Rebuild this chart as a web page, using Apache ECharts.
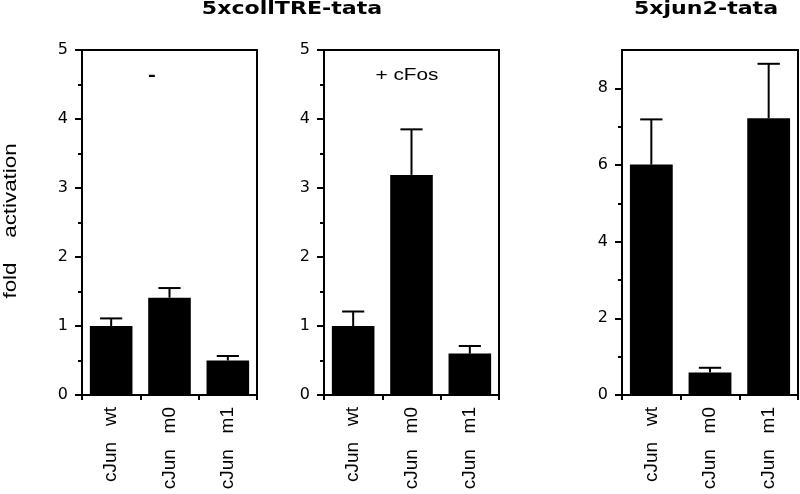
<!DOCTYPE html>
<html>
<head>
<meta charset="utf-8">
<script src="https://cdn.jsdelivr.net/npm/echarts@6/dist/echarts.min.js"></script>
<style>html,body{margin:0;padding:0;background:#fff}#c{width:800px;height:494px}</style>
</head>
<body>
<div id="c"></div>
<script>
const categories = ['cJun   wt', 'cJun   m0', 'cJun   m1'];
const collMinus = [1.0, 1.41, 0.50];
const collMinusErr = [1.11, 1.55, 0.565];
const collFos = [1.0, 3.19, 0.60];
const collFosErr = [1.21, 3.85, 0.71];
const jun2 = [6.01, 0.59, 7.22];
const jun2Err = [7.19, 0.71, 8.64];
const yTicksColl = [0, 1, 2, 3, 4, 5];
const yTicksJun = [0, 2, 4, 6, 8];
const yMinorJun = [1, 3, 5, 7];
const titleColl = '5xcollTRE-tata';
const titleJun = '5xjun2-tata';
const panelMinus = '-';
const panelFos = '+ cFos';
const yName = 'fold    activation';

const chart = echarts.init(document.getElementById('c'), null, {renderer: 'canvas'});
const black = '#000';
const FONT = 'Liberation Sans';

function errData(vals, errs) {
  return vals.map((v, i) => [i, v, errs[i]]);
}
function errRender(params, api) {
  const x = api.value(0);
  const b = api.coord([x, api.value(1)]);
  const t = api.coord([x, api.value(2)]);
  const half = api.size([1, 0])[0] * 0.19;
  return {type: 'group', children: [
    {type: 'line', shape: {x1: b[0], y1: b[1], x2: t[0], y2: t[1]}, style: {stroke: black, lineWidth: 2}},
    {type: 'line', shape: {x1: t[0] - half, y1: t[1], x2: t[0] + half, y2: t[1]}, style: {stroke: black, lineWidth: 2}}
  ]};
}
function xAxis(gi) {
  return {
    type: 'category', gridIndex: gi, data: categories,
    axisLine: {lineStyle: {color: black, width: 2}},
    axisTick: {show: true, length: 5, lineStyle: {color: black, width: 2}},
    axisLabel: {rotate: 90, interval: 0, margin: 12, color: black, fontSize: 19, fontFamily: FONT},
    splitLine: {show: false}
  };
}
function yAxisColl(gi) {
  return {
    type: 'value', gridIndex: gi, min: 0, max: 5, interval: 1,
    axisLine: {show: true, lineStyle: {color: black, width: 2}},
    axisTick: {show: true, length: 7, lineStyle: {color: black, width: 2}},
    minorTick: {show: true, splitNumber: 2, length: 4, lineStyle: {color: black, width: 2}},
    axisLabel: {margin: 14, color: black, fontSize: 16, fontFamily: 'DejaVu Sans',
      customValues: yTicksColl},
    splitLine: {show: false}, minorSplitLine: {show: false}
  };
}
const gridCommon = {show: true, borderColor: black, borderWidth: 2, backgroundColor: 'transparent',
  containLabel: false, outerBoundsMode: 'none'};
function txt(text, x, y, size, weight, family, extra) {
  return Object.assign({type: 'text', x: x, y: y, scaleX: 1.3,
    style: {text: text, fontSize: size, fontWeight: weight, fontFamily: family, fill: black,
      textAlign: 'center', textVerticalAlign: 'middle'}}, extra || {});
}

const option = {
  animation: false,
  backgroundColor: '#fff',
  grid: [
    Object.assign({left: 82, top: 50, width: 175, height: 345}, gridCommon),
    Object.assign({left: 324, top: 50, width: 175, height: 345}, gridCommon),
    Object.assign({left: 622, top: 50, width: 176, height: 345}, gridCommon)
  ],
  xAxis: [xAxis(0), xAxis(1), xAxis(2)],
  yAxis: [
    yAxisColl(0),
    yAxisColl(1),
    {
      type: 'value', gridIndex: 2, min: 0, max: 9, interval: 2,
      axisLine: {show: true, lineStyle: {color: black, width: 2}},
      axisTick: {show: true, length: 7, lineStyle: {color: black, width: 2}, customValues: yTicksJun},
      axisLabel: {margin: 14, color: black, fontSize: 16, fontFamily: 'DejaVu Sans', customValues: yTicksJun},
      splitLine: {show: false}
    },
    {
      type: 'value', gridIndex: 2, position: 'left', min: 0, max: 9, interval: 1,
      axisLine: {show: false},
      axisTick: {show: true, length: 4, lineStyle: {color: black, width: 2}, customValues: yMinorJun},
      axisLabel: {show: false},
      splitLine: {show: false}
    }
  ],
  graphic: [
    txt(titleColl, 292, 10, 17, 'bold', 'DejaVu Sans'),
    txt(titleJun, 706, 10, 17, 'bold', 'DejaVu Sans'),
    txt(panelMinus, 152, 76, 18, 'bold', FONT),
    txt(panelFos, 407, 76, 16, 'normal', FONT),
    txt(yName, 11, 221, 18, 'normal', FONT, {rotation: Math.PI / 2, scaleX: 1.24})
  ],
  series: [
    {type: 'bar', xAxisIndex: 0, yAxisIndex: 0, data: collMinus, barWidth: '73%', itemStyle: {color: black}},
    {type: 'bar', xAxisIndex: 1, yAxisIndex: 1, data: collFos, barWidth: '73%', itemStyle: {color: black}},
    {type: 'bar', xAxisIndex: 2, yAxisIndex: 2, data: jun2, barWidth: '73%', itemStyle: {color: black}},
    {type: 'custom', xAxisIndex: 0, yAxisIndex: 0, data: errData(collMinus, collMinusErr), encode: {x: 0, y: [1, 2]}, renderItem: errRender, z: 3},
    {type: 'custom', xAxisIndex: 1, yAxisIndex: 1, data: errData(collFos, collFosErr), encode: {x: 0, y: [1, 2]}, renderItem: errRender, z: 3},
    {type: 'custom', xAxisIndex: 2, yAxisIndex: 2, data: errData(jun2, jun2Err), encode: {x: 0, y: [1, 2]}, renderItem: errRender, z: 3}
  ]
};
chart.setOption(option);
</script>
</body>
</html>
